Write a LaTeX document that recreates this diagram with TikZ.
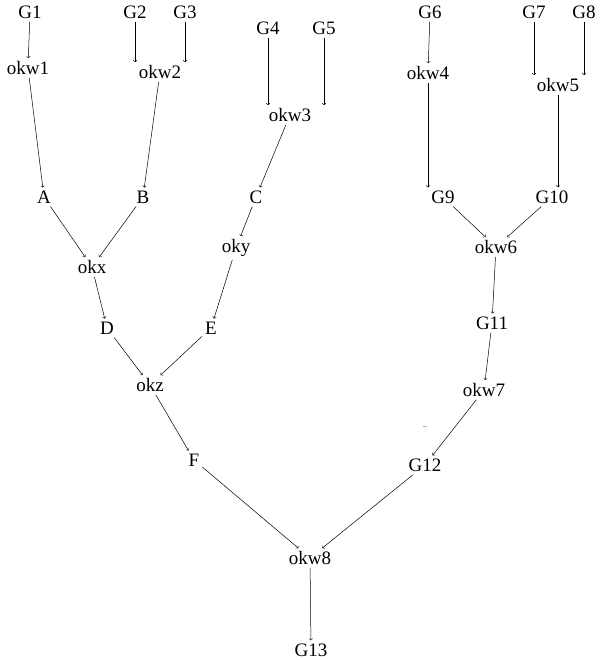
\documentclass[tikz,border=0pt]{standalone}
\usepackage{fontspec}
\setmainfont{Liberation Serif}
\begin{document}
\begin{tikzpicture}[x=1pt,y=-1pt,
  lab/.style={font=\fontsize{19}{20}\selectfont, inner sep=3pt},
  arr/.style={->, >=to, line width=0.5pt}]
\useasboundingbox (0,0) rectangle (602,660);
\node[lab] (g1) at (30,12) {G1};
\node[lab] (okw1) at (28,68) {okw1};
\node[lab] (g2) at (135,12) {G2};
\node[lab] (g3) at (185,12) {G3};
\node[lab] (okw2) at (160,72) {okw2};
\node[lab] (g4) at (268,28) {G4};
\node[lab] (g5) at (324,28) {G5};
\node[lab] (okw3) at (290,115) {okw3};
\node[lab] (g6) at (430,12) {G6};
\node[lab] (okw4) at (428,73) {okw4};
\node[lab] (g7) at (534,12) {G7};
\node[lab] (g8) at (584,12) {G8};
\node[lab] (okw5) at (558,85) {okw5};
\node[lab] (a) at (44,197) {A};
\node[lab] (b) at (143,197) {B};
\node[lab] (c) at (256,197) {C};
\node[lab] (g9) at (443,197) {G9};
\node[lab] (g10) at (552,197) {G10};
\node[lab] (okx) at (92,267) {okx};
\node[lab] (oky) at (236,248) {oky};
\node[lab] (okw6) at (496,247) {okw6};
\node[lab] (d) at (107,328) {D};
\node[lab] (e) at (211,328) {E};
\node[lab] (g11) at (492,323) {G11};
\node[lab] (okz) at (150,385) {okz};
\node[lab] (okw7) at (484,390) {okw7};
\node[lab] (f) at (194,460) {F};
\node[lab] (g12) at (425,465) {G12};
\node[lab] (okw8) at (310,558) {okw8};
\node[lab] (g13) at (311,650) {G13};
\node[font=\fontsize{8}{8}\selectfont, inner sep=0pt] (dots) at (425,427) {..};
\draw[arr] (g1) -- (okw1);
\draw[arr] (g2) -- (g2 |- okw2.north);
\draw[arr] (g3) -- (g3 |- okw2.north);
\draw[arr] (g4) -- (g4 |- okw3.north);
\draw[arr] (g5) -- (g5 |- okw3.north);
\draw[arr] (g6) -- (okw4);
\draw[arr] (g7) -- (g7 |- okw5.north);
\draw[arr] (g8) -- (g8 |- okw5.north);
\draw[arr] (okw1) -- (a);
\draw[arr] (okw2) -- (b);
\draw[arr] (okw3) -- (c);
\draw[arr] (okw4) -- (okw4 |- g9.north);
\draw[arr] (okw5) -- (okw5 |- g10.north);
\draw[arr] (a) -- (okx);
\draw[arr] (b) -- (okx);
\draw[arr] (c) -- (oky);
\draw[arr] (g9) -- (okw6);
\draw[arr] (g10) -- (okw6);
\draw[arr] (okx) -- (d);
\draw[arr] (oky) -- (e);
\draw[arr] (okw6) -- (g11);
\draw[arr] (d) -- (okz);
\draw[arr] (e) -- (okz);
\draw[arr] (g11) -- (okw7);
\draw[arr] (okz) -- (f);
\draw[arr] (okw7) -- (g12);
\draw[arr] (f) -- (okw8);
\draw[arr] (g12) -- (okw8);
\draw[arr] (okw8) -- (g13);
\end{tikzpicture}
\end{document}
